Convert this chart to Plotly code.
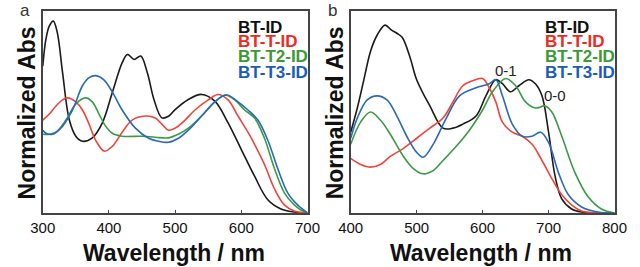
import plotly.graph_objects as go

# ---- Panel a data (wavelength nm, normalized abs) ----
a_bt_id_x = [300,305,310,316,322,330,340,350,360,375,390,405,420,428,438,448,458,468,480,490,500,520,540,560,580,600,620,640,660,680,700]
a_bt_id_y = [0.727,0.864,0.926,0.950,0.893,0.694,0.463,0.380,0.355,0.372,0.446,0.595,0.744,0.785,0.760,0.777,0.694,0.562,0.471,0.479,0.512,0.562,0.587,0.554,0.446,0.314,0.182,0.066,0.020,0.005,0.0]
a_btt_x = [300,310,320,330,338,350,360,370,380,393,405,420,435,455,470,480,490,500,515,530,550,565,580,595,610,620,635,650,665,680,700]
a_btt_y = [0.46,0.49,0.53,0.56,0.57,0.55,0.51,0.44,0.36,0.306,0.33,0.40,0.46,0.48,0.47,0.44,0.41,0.42,0.46,0.51,0.56,0.587,0.56,0.48,0.40,0.34,0.24,0.12,0.04,0.01,0.0]
a_btt2_x = [300,310,320,335,350,365,375,385,395,405,420,450,470,490,505,520,540,560,575,590,605,620,635,650,665,680,690,700]
a_btt2_y = [0.39,0.39,0.40,0.46,0.54,0.57,0.55,0.49,0.43,0.395,0.38,0.38,0.375,0.372,0.39,0.42,0.48,0.55,0.584,0.56,0.51,0.47,0.37,0.22,0.10,0.04,0.015,0.0]
a_btt3_x = [300,305,315,330,345,360,370,380,392,405,420,440,460,475,490,505,520,540,560,578,595,610,625,640,655,670,685,700]
a_btt3_y = [0.41,0.395,0.39,0.43,0.51,0.63,0.67,0.68,0.66,0.60,0.51,0.42,0.37,0.355,0.35,0.37,0.41,0.48,0.55,0.584,0.55,0.51,0.46,0.36,0.22,0.10,0.04,0.0]

# ---- Panel b data ----
b_bt_id_x = [400,410,420,430,440,452,462,470,478,490,500,520,540,555,570,590,605,620,630,642,655,670,680,690,700,710,720,735,750,800]
b_bt_id_y = [0.40,0.52,0.66,0.80,0.88,0.93,0.905,0.89,0.87,0.77,0.66,0.53,0.42,0.42,0.44,0.48,0.58,0.66,0.64,0.60,0.63,0.66,0.64,0.58,0.40,0.18,0.07,0.02,0.005,0.0]
b_btt_x = [400,415,430,445,460,480,500,520,540,555,570,585,600,610,620,630,645,660,675,690,705,720,735,750,800]
b_btt_y = [0.27,0.24,0.227,0.24,0.28,0.32,0.37,0.42,0.47,0.55,0.63,0.655,0.666,0.62,0.55,0.45,0.40,0.38,0.34,0.26,0.17,0.09,0.04,0.01,0.0]
b_btt2_x = [400,415,430,445,460,480,495,510,525,540,560,580,600,615,635,650,665,680,695,705,720,740,760,780,800]
b_btt2_y = [0.34,0.45,0.50,0.46,0.39,0.28,0.22,0.194,0.21,0.26,0.33,0.41,0.51,0.60,0.666,0.63,0.55,0.52,0.53,0.50,0.38,0.20,0.08,0.02,0.0]
b_btt3_x = [400,410,425,440,455,470,485,500,510,525,545,565,590,610,620,630,645,660,675,688,700,715,730,750,775,800]
b_btt3_y = [0.37,0.47,0.56,0.58,0.56,0.48,0.38,0.30,0.276,0.34,0.47,0.58,0.62,0.64,0.66,0.58,0.44,0.38,0.38,0.40,0.35,0.20,0.09,0.03,0.005,0.0]

series_names = ["BT-ID", "BT-T-ID", "BT-T2-ID", "BT-T3-ID"]
line_colors = ["#1a1a1a", "#f0453a", "#3c9a45", "#2a68b8"]
text_colors = ["#111111", "#ee2a22", "#3c9a35", "#1b5db5"]

panel_a = [(a_bt_id_x, a_bt_id_y), (a_btt_x, a_btt_y), (a_btt2_x, a_btt2_y), (a_btt3_x, a_btt3_y)]
panel_b = [(b_bt_id_x, b_bt_id_y), (b_btt_x, b_btt_y), (b_btt2_x, b_btt2_y), (b_btt3_x, b_btt3_y)]

W, H = 640, 267
def px_x(p):
    return p / W
def px_y(p):
    return 1 - p / H

fig = go.Figure()
for i, (x, y) in enumerate(panel_a):
    fig.add_trace(go.Scatter(x=x, y=y, mode="lines", line=dict(color=line_colors[i], width=1.6, shape="spline", smoothing=1.0),
                             xaxis="x", yaxis="y", showlegend=False, hoverinfo="skip"))
for i, (x, y) in enumerate(panel_b):
    fig.add_trace(go.Scatter(x=x, y=y, mode="lines", line=dict(color=line_colors[i], width=1.6, shape="spline", smoothing=1.0),
                             xaxis="x2", yaxis="y2", showlegend=False, hoverinfo="skip"))

FONT = "Liberation Sans, Arial, Helvetica, sans-serif"
axis_common = dict(showgrid=False, zeroline=False, showline=True, linecolor="#444", linewidth=1.5, mirror=True,
                   ticks="inside", ticklen=3, tickcolor="#444", tickfont=dict(family=FONT, size=15, color="#111"))
ycommon = dict(showgrid=False, zeroline=False, showline=True, linecolor="#444", linewidth=1.5, mirror=True,
               showticklabels=False, ticks="", range=[0, 1], fixedrange=True)

x1d = [px_x(31), px_x(307)]
x2d = [px_x(352), px_x(627)]
yd = [px_y(213), px_y(11)]

fig.update_layout(
    width=W, height=H, margin=dict(l=0, r=0, t=0, b=0),
    paper_bgcolor="white", plot_bgcolor="white",
    xaxis=dict(domain=x1d, range=[300, 700], tickvals=[300, 400, 500, 600, 700], anchor="y", **axis_common),
    yaxis=dict(domain=yd, anchor="x", **ycommon),
    xaxis2=dict(domain=x2d, range=[400, 800], tickvals=[400, 500, 600, 700, 800], anchor="y2", **axis_common),
    yaxis2=dict(domain=yd, anchor="x2", **ycommon),
)

ann = []
# legends
leg_y = [27, 42, 57, 72]
for left_px in (232, 552):
    for i, name in enumerate(series_names):
        ann.append(dict(text="<b>%s</b>" % name, xref="paper", yref="paper", x=px_x(left_px), y=px_y(leg_y[i]),
                        xanchor="left", yanchor="middle", showarrow=False,
                        font=dict(family=FONT, size=17, color=text_colors[i])))
# axis titles
for cx in (168, 488):
    ann.append(dict(text="<b>Wavelength / nm</b>", xref="paper", yref="paper", x=px_x(cx), y=px_y(253),
                    xanchor="center", yanchor="middle", showarrow=False, font=dict(family=FONT, size=23, color="#111")))
for cx in (15, 336):
    ann.append(dict(text="<b>Normalized Abs</b>", xref="paper", yref="paper", x=px_x(cx), y=px_y(113),
                    xanchor="center", yanchor="middle", showarrow=False, textangle=-90,
                    font=dict(family=FONT, size=23, color="#111")))
# panel labels
ann.append(dict(text="a", xref="paper", yref="paper", x=px_x(12), y=px_y(11), xanchor="center", yanchor="middle",
                showarrow=False, font=dict(family=FONT, size=17, color="#333")))
ann.append(dict(text="b", xref="paper", yref="paper", x=px_x(333), y=px_y(11), xanchor="center", yanchor="middle",
                showarrow=False, font=dict(family=FONT, size=17, color="#333")))
# vibronic labels
ann.append(dict(text="0-1", xref="paper", yref="paper", x=px_x(513.5), y=px_y(70), showarrow=False,
                xanchor="center", yanchor="middle", font=dict(family=FONT, size=15, color="#222")))
ann.append(dict(text="0-0", xref="paper", yref="paper", x=px_x(564.5), y=px_y(95), showarrow=False,
                xanchor="center", yanchor="middle", font=dict(family=FONT, size=15, color="#222")))
fig.update_layout(annotations=ann)

fig.write_html("out.html", config={"displayModeBar": False},
               post_script="document.body.style.margin='0';document.body.style.overflow='hidden';")
